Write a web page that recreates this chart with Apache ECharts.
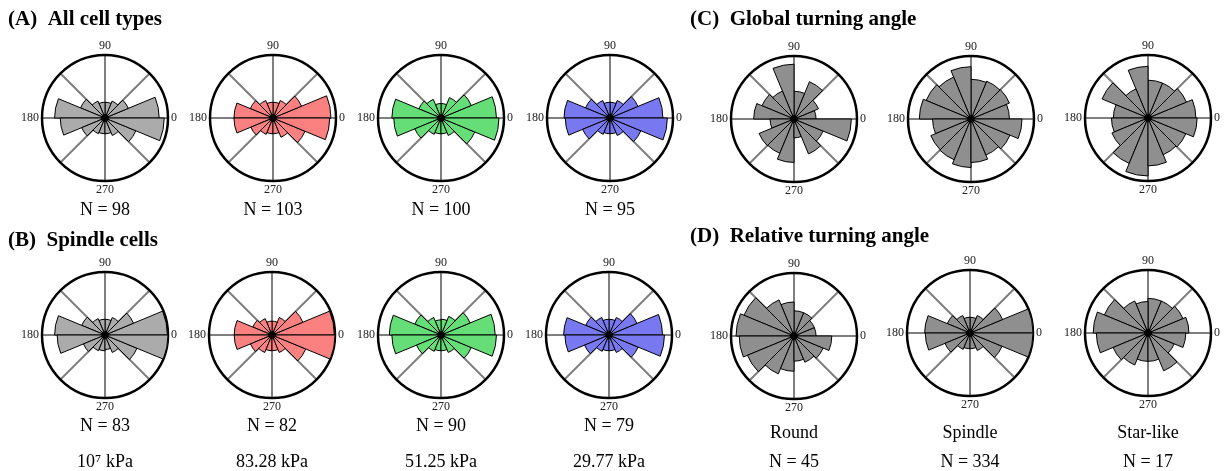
<!DOCTYPE html>
<html><head><meta charset="utf-8">
<script src="https://cdn.jsdelivr.net/npm/echarts@6/dist/echarts.min.js"></script>
<style>html,body{margin:0;padding:0;background:#fff}#c{width:1229px;height:471px}</style>
</head><body><div id="c"></div>
<script>
// 16 angular bins (degrees, counter-clockwise from 0 = east)
const binStart = [0,22.5,45,67.5,90,112.5,135,157.5,180,202.5,225,247.5,270,292.5,315,337.5];
const binWidth = 22.5;
const angleTickLabels = [0, 90, 180, 270];

// Bin lengths, relative to the outer circle (radius axis 0..1)
// (A) All cell types
const allCells_1e7  = [0.86,0.40,0.29,0.25,0.25,0.29,0.42,0.80,0.71,0.40,0.27,0.25,0.25,0.30,0.53,0.94];
const allCells_8328 = [0.92,0.49,0.30,0.25,0.25,0.30,0.39,0.62,0.62,0.38,0.28,0.25,0.25,0.33,0.55,0.90];
const allCells_5125 = [0.88,0.52,0.35,0.23,0.23,0.32,0.38,0.78,0.75,0.45,0.28,0.25,0.25,0.30,0.58,0.92];
const allCells_2977 = [0.84,0.48,0.30,0.25,0.25,0.30,0.42,0.73,0.71,0.47,0.28,0.25,0.25,0.30,0.53,0.91];
const allCellsN = ['N = 98','N = 103','N = 100','N = 95'];
// (B) Spindle cells
const spindle_1e7  = [0.99,0.49,0.30,0.25,0.25,0.28,0.40,0.80,0.76,0.37,0.27,0.25,0.23,0.30,0.55,1.00];
const spindle_8328 = [0.99,0.53,0.30,0.22,0.22,0.28,0.33,0.60,0.60,0.37,0.30,0.25,0.25,0.30,0.58,1.00];
const spindle_5125 = [0.86,0.50,0.32,0.25,0.24,0.30,0.45,0.82,0.78,0.42,0.28,0.25,0.25,0.30,0.52,0.88];
const spindle_2977 = [0.85,0.48,0.30,0.25,0.25,0.30,0.40,0.72,0.70,0.42,0.28,0.25,0.25,0.30,0.50,0.88];
const spindleN = ['N = 83','N = 82','N = 90','N = 79'];
const stiffness = ['10\u2077 kPa','83.28 kPa','51.25 kPa','29.77 kPa'];
// (C) Global turning angle
const global_round   = [0.35,0.42,0.64,0.44,0.87,0.48,0.55,0.64,0.38,0.60,0.59,0.69,0.30,0.60,0.50,0.91];
const global_spindle = [0.61,0.66,0.65,0.63,0.83,0.72,0.77,0.82,0.61,0.69,0.70,0.77,0.69,0.62,0.67,0.81];
const global_star    = [0.76,0.66,0.60,0.60,0.82,0.50,0.79,0.55,0.58,0.62,0.78,0.92,0.76,0.63,0.65,0.78];
// (D) Relative turning angle
const relative_round   = [0.35,0.35,0.40,0.40,0.54,0.62,0.86,0.92,0.87,0.80,0.65,0.56,0.40,0.45,0.50,0.60];
const relative_spindle = [1.00,0.56,0.30,0.25,0.25,0.30,0.39,0.72,0.71,0.43,0.28,0.25,0.25,0.30,0.55,1.00];
const relative_star    = [0.65,0.60,0.55,0.55,0.50,0.55,0.75,0.87,0.82,0.60,0.55,0.45,0.45,0.65,0.45,0.60];
const shapeNames = ['Round','Spindle','Star-like'];
const shapeN = ['N = 45','N = 334','N = 17'];

const GRAY_A = '#ababab', GRAY_C = '#8f8f8f', RED = '#fb8080', GREEN = '#66de77', BLUE = '#7878f0';
const panels = [
  {v: allCells_1e7,  fill: GRAY_A, c: [105,118]},
  {v: allCells_8328, fill: RED,    c: [273,118]},
  {v: allCells_5125, fill: GREEN,  c: [441,118]},
  {v: allCells_2977, fill: BLUE,   c: [610,118]},
  {v: spindle_1e7,   fill: GRAY_A, c: [105,335]},
  {v: spindle_8328,  fill: RED,    c: [272,335]},
  {v: spindle_5125,  fill: GREEN,  c: [441,335]},
  {v: spindle_2977,  fill: BLUE,   c: [609,335]},
  {v: global_round,   fill: GRAY_C, c: [794,119]},
  {v: global_spindle, fill: GRAY_C, c: [971,119]},
  {v: global_star,    fill: GRAY_C, c: [1148,118]},
  {v: relative_round,   fill: GRAY_C, c: [794,336]},
  {v: relative_spindle, fill: GRAY_C, c: [970,333]},
  {v: relative_star,    fill: GRAY_C, c: [1148,333]}
];
const R = 63;
const SERIF = '"Liberation Serif","DejaVu Serif",serif';

const polar = [], angleAxis = [], radiusAxis = [], series = [];
panels.forEach((p, i) => {
  polar.push({center: p.c, radius: R});
  angleAxis.push({
    polarIndex: i, type: 'value', min: 0, max: 360, interval: 45,
    startAngle: 0, clockwise: false,
    axisLine: {lineStyle: {color: '#000', width: 2.5}},
    axisTick: {show: false},
    splitLine: {show: true, lineStyle: {color: '#7f7f7f', width: 2}},
    axisLabel: {
      margin: 3, fontFamily: SERIF, fontSize: 12, color: '#222',
      formatter: v => angleTickLabels.indexOf(v) >= 0 ? String(v) : ''
    }
  });
  radiusAxis.push({polarIndex: i, min: 0, max: 1, show: false});
  series.push({
    type: 'custom', coordinateSystem: 'polar', polarIndex: i,
    data: binStart.map((a, k) => [p.v[k], a, a + binWidth]),
    encode: {radius: 0, angle: 1},
    renderItem: (params, api) => {
      const c = api.coord([0, 0]);
      const pe = api.coord([api.value(0), api.value(2)]);
      const r = Math.hypot(pe[0] - c[0], pe[1] - c[1]);
      const a1 = Math.atan2(pe[1] - c[1], pe[0] - c[0]);
      const sweep = (api.value(2) - api.value(1)) * Math.PI / 180;
      return {
        type: 'sector',
        shape: {cx: c[0], cy: c[1], r0: 0, r: r, startAngle: a1, endAngle: a1 + sweep, clockwise: true},
        style: {fill: p.fill, stroke: '#000', lineWidth: 1}
      };
    },
    z: 3, silent: true, animation: false
  });
  series.push({
    type: 'scatter', coordinateSystem: 'polar', polarIndex: i,
    data: [[0, 0]], symbolSize: 8, itemStyle: {color: '#000'}, z: 5, silent: true, animation: false
  });
});

const graphic = [];
function txt(t, x, y, size, bold, align) {
  graphic.push({type: 'text', x: x, y: y, silent: true,
    style: {text: t, font: (bold ? 'bold ' : '') + size + 'px ' + SERIF, fill: '#000',
      textAlign: align || 'center', textVerticalAlign: 'middle'}});
}
txt('(A)  All cell types', 8, 20, 21, true, 'left');
txt('(B)  Spindle cells', 8, 241, 21, true, 'left');
txt('(C)  Global turning angle', 690, 20, 21, true, 'left');
txt('(D)  Relative turning angle', 690, 237, 21, true, 'left');
allCellsN.forEach((t, k) => txt(t, panels[k].c[0], 210, 18));
spindleN.forEach((t, k) => txt(t, panels[4 + k].c[0], 426, 18));
stiffness.forEach((t, k) => txt(t, panels[4 + k].c[0], 462, 18));
shapeNames.forEach((t, k) => txt(t, panels[11 + k].c[0], 433, 18));
shapeN.forEach((t, k) => txt(t, panels[11 + k].c[0], 462, 18));

const chart = echarts.init(document.getElementById('c'), null, {renderer: 'canvas'});
chart.setOption({animation: false, backgroundColor: '#fff', polar, angleAxis, radiusAxis, series, graphic});
</script></body></html>
